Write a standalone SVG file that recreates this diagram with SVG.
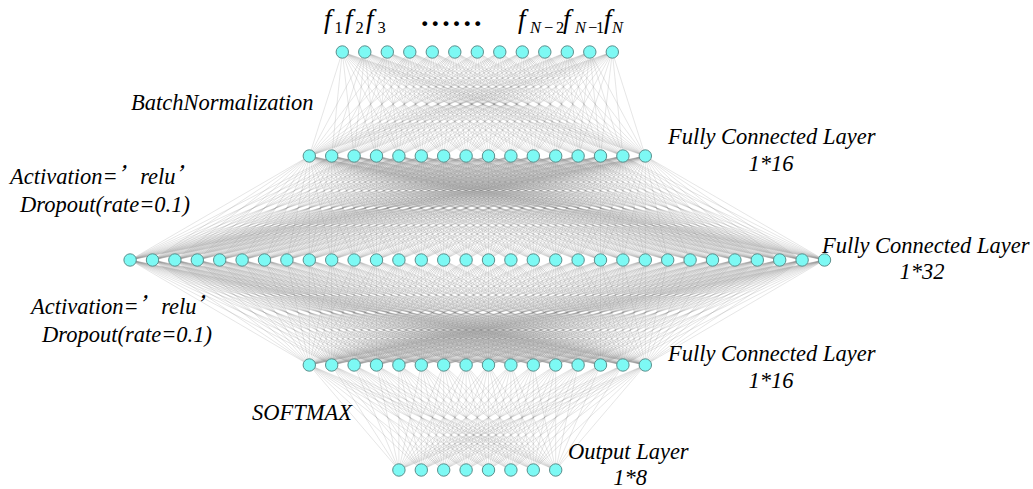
<svg xmlns="http://www.w3.org/2000/svg" width="1033" height="489" viewBox="0 0 1033 489">
<style>
.ln{fill:none;stroke:#858585;stroke-width:0.5;stroke-opacity:0.42;vector-effect:non-scaling-stroke}
.nd{fill:#7df9f4;stroke:#5c8f8c;stroke-width:1}
.lb{font-family:'Liberation Serif','Times New Roman',serif;font-style:italic;font-size:22.5px;fill:#000}
.fx{font-family:'Liberation Serif','Times New Roman',serif;font-style:italic;font-size:27px;fill:#000}
.q{font-family:'Noto Sans CJK SC',sans-serif}
.sub{font-family:'Liberation Serif','Times New Roman',serif;font-style:normal;font-size:16.5px;fill:#000}
.subi{font-family:'Liberation Serif','Times New Roman',serif;font-style:italic;font-size:16.5px;fill:#000}
</style>
<defs>
<path id="fA" class="ln" d="M0-104L-168 0M0-104L-145.6 0M0-104L-123.2 0M0-104L-100.8 0M0-104L-78.4 0M0-104L-56 0M0-104L-33.6 0M0-104L-11.2 0M0-104L11.2 0M0-104L33.6 0M0-104L56 0M0-104L78.4 0M0-104L100.8 0M0-104L123.2 0M0-104L145.6 0M0-104L168 0"/>
<path id="fB" class="ln" d="M0-104L-347.2 0M0-104L-324.8 0M0-104L-302.4 0M0-104L-280 0M0-104L-257.6 0M0-104L-235.2 0M0-104L-212.8 0M0-104L-190.4 0M0-104L-168 0M0-104L-145.6 0M0-104L-123.2 0M0-104L-100.8 0M0-104L-78.4 0M0-104L-56 0M0-104L-33.6 0M0-104L-11.2 0M0-104L11.2 0M0-104L33.6 0M0-104L56 0M0-104L78.4 0M0-104L100.8 0M0-104L123.2 0M0-104L145.6 0M0-104L168 0M0-104L190.4 0M0-104L212.8 0M0-104L235.2 0M0-104L257.6 0M0-104L280 0M0-104L302.4 0M0-104L324.8 0M0-104L347.2 0"/>
<path id="fC" class="ln" d="M0-105L-168 0M0-105L-145.6 0M0-105L-123.2 0M0-105L-100.8 0M0-105L-78.4 0M0-105L-56 0M0-105L-33.6 0M0-105L-11.2 0M0-105L11.2 0M0-105L33.6 0M0-105L56 0M0-105L78.4 0M0-105L100.8 0M0-105L123.2 0M0-105L145.6 0M0-105L168 0"/>
<path id="fD" class="ln" d="M0-105L-78.4 0M0-105L-56 0M0-105L-33.6 0M0-105L-11.2 0M0-105L11.2 0M0-105L33.6 0M0-105L56 0M0-105L78.4 0"/>
</defs>
<g id="connectors">
<g transform="translate(477.3 156)">
<use href="#fA" transform="matrix(1 0 1.29808 1 0 0)"/>
<use href="#fA" transform="matrix(1 0 1.08173 1 0 0)"/>
<use href="#fA" transform="matrix(1 0 0.86538 1 0 0)"/>
<use href="#fA" transform="matrix(1 0 0.64904 1 0 0)"/>
<use href="#fA" transform="matrix(1 0 0.43269 1 0 0)"/>
<use href="#fA" transform="matrix(1 0 0.21635 1 0 0)"/>
<use href="#fA"/>
<use href="#fA" transform="matrix(1 0 -0.21635 1 0 0)"/>
<use href="#fA" transform="matrix(1 0 -0.43269 1 0 0)"/>
<use href="#fA" transform="matrix(1 0 -0.64904 1 0 0)"/>
<use href="#fA" transform="matrix(1 0 -0.86538 1 0 0)"/>
<use href="#fA" transform="matrix(1 0 -1.08173 1 0 0)"/>
<use href="#fA" transform="matrix(1 0 -1.29808 1 0 0)"/>
</g>
<g transform="translate(477.3 260)">
<use href="#fB" transform="matrix(1 0 1.61538 1 0 0)"/>
<use href="#fB" transform="matrix(1 0 1.4 1 0 0)"/>
<use href="#fB" transform="matrix(1 0 1.18462 1 0 0)"/>
<use href="#fB" transform="matrix(1 0 0.96923 1 0 0)"/>
<use href="#fB" transform="matrix(1 0 0.75385 1 0 0)"/>
<use href="#fB" transform="matrix(1 0 0.53846 1 0 0)"/>
<use href="#fB" transform="matrix(1 0 0.32308 1 0 0)"/>
<use href="#fB" transform="matrix(1 0 0.10769 1 0 0)"/>
<use href="#fB" transform="matrix(1 0 -0.10769 1 0 0)"/>
<use href="#fB" transform="matrix(1 0 -0.32308 1 0 0)"/>
<use href="#fB" transform="matrix(1 0 -0.53846 1 0 0)"/>
<use href="#fB" transform="matrix(1 0 -0.75385 1 0 0)"/>
<use href="#fB" transform="matrix(1 0 -0.96923 1 0 0)"/>
<use href="#fB" transform="matrix(1 0 -1.18462 1 0 0)"/>
<use href="#fB" transform="matrix(1 0 -1.4 1 0 0)"/>
<use href="#fB" transform="matrix(1 0 -1.61538 1 0 0)"/>
</g>
<g transform="translate(477.3 365)">
<use href="#fC" transform="matrix(1 0 3.30667 1 0 0)"/>
<use href="#fC" transform="matrix(1 0 3.09333 1 0 0)"/>
<use href="#fC" transform="matrix(1 0 2.88 1 0 0)"/>
<use href="#fC" transform="matrix(1 0 2.66667 1 0 0)"/>
<use href="#fC" transform="matrix(1 0 2.45333 1 0 0)"/>
<use href="#fC" transform="matrix(1 0 2.24 1 0 0)"/>
<use href="#fC" transform="matrix(1 0 2.02667 1 0 0)"/>
<use href="#fC" transform="matrix(1 0 1.81333 1 0 0)"/>
<use href="#fC" transform="matrix(1 0 1.6 1 0 0)"/>
<use href="#fC" transform="matrix(1 0 1.38667 1 0 0)"/>
<use href="#fC" transform="matrix(1 0 1.17333 1 0 0)"/>
<use href="#fC" transform="matrix(1 0 0.96 1 0 0)"/>
<use href="#fC" transform="matrix(1 0 0.74667 1 0 0)"/>
<use href="#fC" transform="matrix(1 0 0.53333 1 0 0)"/>
<use href="#fC" transform="matrix(1 0 0.32 1 0 0)"/>
<use href="#fC" transform="matrix(1 0 0.10667 1 0 0)"/>
<use href="#fC" transform="matrix(1 0 -0.10667 1 0 0)"/>
<use href="#fC" transform="matrix(1 0 -0.32 1 0 0)"/>
<use href="#fC" transform="matrix(1 0 -0.53333 1 0 0)"/>
<use href="#fC" transform="matrix(1 0 -0.74667 1 0 0)"/>
<use href="#fC" transform="matrix(1 0 -0.96 1 0 0)"/>
<use href="#fC" transform="matrix(1 0 -1.17333 1 0 0)"/>
<use href="#fC" transform="matrix(1 0 -1.38667 1 0 0)"/>
<use href="#fC" transform="matrix(1 0 -1.6 1 0 0)"/>
<use href="#fC" transform="matrix(1 0 -1.81333 1 0 0)"/>
<use href="#fC" transform="matrix(1 0 -2.02667 1 0 0)"/>
<use href="#fC" transform="matrix(1 0 -2.24 1 0 0)"/>
<use href="#fC" transform="matrix(1 0 -2.45333 1 0 0)"/>
<use href="#fC" transform="matrix(1 0 -2.66667 1 0 0)"/>
<use href="#fC" transform="matrix(1 0 -2.88 1 0 0)"/>
<use href="#fC" transform="matrix(1 0 -3.09333 1 0 0)"/>
<use href="#fC" transform="matrix(1 0 -3.30667 1 0 0)"/>
</g>
<g transform="translate(477.3 470)">
<use href="#fD" transform="matrix(1 0 1.6 1 0 0)"/>
<use href="#fD" transform="matrix(1 0 1.38667 1 0 0)"/>
<use href="#fD" transform="matrix(1 0 1.17333 1 0 0)"/>
<use href="#fD" transform="matrix(1 0 0.96 1 0 0)"/>
<use href="#fD" transform="matrix(1 0 0.74667 1 0 0)"/>
<use href="#fD" transform="matrix(1 0 0.53333 1 0 0)"/>
<use href="#fD" transform="matrix(1 0 0.32 1 0 0)"/>
<use href="#fD" transform="matrix(1 0 0.10667 1 0 0)"/>
<use href="#fD" transform="matrix(1 0 -0.10667 1 0 0)"/>
<use href="#fD" transform="matrix(1 0 -0.32 1 0 0)"/>
<use href="#fD" transform="matrix(1 0 -0.53333 1 0 0)"/>
<use href="#fD" transform="matrix(1 0 -0.74667 1 0 0)"/>
<use href="#fD" transform="matrix(1 0 -0.96 1 0 0)"/>
<use href="#fD" transform="matrix(1 0 -1.17333 1 0 0)"/>
<use href="#fD" transform="matrix(1 0 -1.38667 1 0 0)"/>
<use href="#fD" transform="matrix(1 0 -1.6 1 0 0)"/>
</g>
</g>
<g id="layer-input">
<g id="in1"><circle class="nd" cx="342.3" cy="52" r="6.2"/></g>
<g id="in2"><circle class="nd" cx="364.8" cy="52" r="6.2"/></g>
<g id="in3"><circle class="nd" cx="387.3" cy="52" r="6.2"/></g>
<g id="in4"><circle class="nd" cx="409.8" cy="52" r="6.2"/></g>
<g id="in5"><circle class="nd" cx="432.3" cy="52" r="6.2"/></g>
<g id="in6"><circle class="nd" cx="454.8" cy="52" r="6.2"/></g>
<g id="in7"><circle class="nd" cx="477.3" cy="52" r="6.2"/></g>
<g id="in8"><circle class="nd" cx="499.8" cy="52" r="6.2"/></g>
<g id="in9"><circle class="nd" cx="522.3" cy="52" r="6.2"/></g>
<g id="in10"><circle class="nd" cx="544.8" cy="52" r="6.2"/></g>
<g id="in11"><circle class="nd" cx="567.3" cy="52" r="6.2"/></g>
<g id="in12"><circle class="nd" cx="589.8" cy="52" r="6.2"/></g>
<g id="in13"><circle class="nd" cx="612.3" cy="52" r="6.2"/></g>
</g>
<g id="layer-fc1">
<g id="h1_1"><circle class="nd" cx="309.3" cy="156" r="6.2"/></g>
<g id="h1_2"><circle class="nd" cx="331.7" cy="156" r="6.2"/></g>
<g id="h1_3"><circle class="nd" cx="354.1" cy="156" r="6.2"/></g>
<g id="h1_4"><circle class="nd" cx="376.5" cy="156" r="6.2"/></g>
<g id="h1_5"><circle class="nd" cx="398.9" cy="156" r="6.2"/></g>
<g id="h1_6"><circle class="nd" cx="421.3" cy="156" r="6.2"/></g>
<g id="h1_7"><circle class="nd" cx="443.7" cy="156" r="6.2"/></g>
<g id="h1_8"><circle class="nd" cx="466.1" cy="156" r="6.2"/></g>
<g id="h1_9"><circle class="nd" cx="488.5" cy="156" r="6.2"/></g>
<g id="h1_10"><circle class="nd" cx="510.9" cy="156" r="6.2"/></g>
<g id="h1_11"><circle class="nd" cx="533.3" cy="156" r="6.2"/></g>
<g id="h1_12"><circle class="nd" cx="555.7" cy="156" r="6.2"/></g>
<g id="h1_13"><circle class="nd" cx="578.1" cy="156" r="6.2"/></g>
<g id="h1_14"><circle class="nd" cx="600.5" cy="156" r="6.2"/></g>
<g id="h1_15"><circle class="nd" cx="622.9" cy="156" r="6.2"/></g>
<g id="h1_16"><circle class="nd" cx="645.3" cy="156" r="6.2"/></g>
</g>
<g id="layer-fc2">
<g id="h2_1"><circle class="nd" cx="130.1" cy="260" r="6.2"/></g>
<g id="h2_2"><circle class="nd" cx="152.5" cy="260" r="6.2"/></g>
<g id="h2_3"><circle class="nd" cx="174.9" cy="260" r="6.2"/></g>
<g id="h2_4"><circle class="nd" cx="197.3" cy="260" r="6.2"/></g>
<g id="h2_5"><circle class="nd" cx="219.7" cy="260" r="6.2"/></g>
<g id="h2_6"><circle class="nd" cx="242.1" cy="260" r="6.2"/></g>
<g id="h2_7"><circle class="nd" cx="264.5" cy="260" r="6.2"/></g>
<g id="h2_8"><circle class="nd" cx="286.9" cy="260" r="6.2"/></g>
<g id="h2_9"><circle class="nd" cx="309.3" cy="260" r="6.2"/></g>
<g id="h2_10"><circle class="nd" cx="331.7" cy="260" r="6.2"/></g>
<g id="h2_11"><circle class="nd" cx="354.1" cy="260" r="6.2"/></g>
<g id="h2_12"><circle class="nd" cx="376.5" cy="260" r="6.2"/></g>
<g id="h2_13"><circle class="nd" cx="398.9" cy="260" r="6.2"/></g>
<g id="h2_14"><circle class="nd" cx="421.3" cy="260" r="6.2"/></g>
<g id="h2_15"><circle class="nd" cx="443.7" cy="260" r="6.2"/></g>
<g id="h2_16"><circle class="nd" cx="466.1" cy="260" r="6.2"/></g>
<g id="h2_17"><circle class="nd" cx="488.5" cy="260" r="6.2"/></g>
<g id="h2_18"><circle class="nd" cx="510.9" cy="260" r="6.2"/></g>
<g id="h2_19"><circle class="nd" cx="533.3" cy="260" r="6.2"/></g>
<g id="h2_20"><circle class="nd" cx="555.7" cy="260" r="6.2"/></g>
<g id="h2_21"><circle class="nd" cx="578.1" cy="260" r="6.2"/></g>
<g id="h2_22"><circle class="nd" cx="600.5" cy="260" r="6.2"/></g>
<g id="h2_23"><circle class="nd" cx="622.9" cy="260" r="6.2"/></g>
<g id="h2_24"><circle class="nd" cx="645.3" cy="260" r="6.2"/></g>
<g id="h2_25"><circle class="nd" cx="667.7" cy="260" r="6.2"/></g>
<g id="h2_26"><circle class="nd" cx="690.1" cy="260" r="6.2"/></g>
<g id="h2_27"><circle class="nd" cx="712.5" cy="260" r="6.2"/></g>
<g id="h2_28"><circle class="nd" cx="734.9" cy="260" r="6.2"/></g>
<g id="h2_29"><circle class="nd" cx="757.3" cy="260" r="6.2"/></g>
<g id="h2_30"><circle class="nd" cx="779.7" cy="260" r="6.2"/></g>
<g id="h2_31"><circle class="nd" cx="802.1" cy="260" r="6.2"/></g>
<g id="h2_32"><circle class="nd" cx="824.5" cy="260" r="6.2"/></g>
</g>
<g id="layer-fc3">
<g id="h3_1"><circle class="nd" cx="309.3" cy="365" r="6.2"/></g>
<g id="h3_2"><circle class="nd" cx="331.7" cy="365" r="6.2"/></g>
<g id="h3_3"><circle class="nd" cx="354.1" cy="365" r="6.2"/></g>
<g id="h3_4"><circle class="nd" cx="376.5" cy="365" r="6.2"/></g>
<g id="h3_5"><circle class="nd" cx="398.9" cy="365" r="6.2"/></g>
<g id="h3_6"><circle class="nd" cx="421.3" cy="365" r="6.2"/></g>
<g id="h3_7"><circle class="nd" cx="443.7" cy="365" r="6.2"/></g>
<g id="h3_8"><circle class="nd" cx="466.1" cy="365" r="6.2"/></g>
<g id="h3_9"><circle class="nd" cx="488.5" cy="365" r="6.2"/></g>
<g id="h3_10"><circle class="nd" cx="510.9" cy="365" r="6.2"/></g>
<g id="h3_11"><circle class="nd" cx="533.3" cy="365" r="6.2"/></g>
<g id="h3_12"><circle class="nd" cx="555.7" cy="365" r="6.2"/></g>
<g id="h3_13"><circle class="nd" cx="578.1" cy="365" r="6.2"/></g>
<g id="h3_14"><circle class="nd" cx="600.5" cy="365" r="6.2"/></g>
<g id="h3_15"><circle class="nd" cx="622.9" cy="365" r="6.2"/></g>
<g id="h3_16"><circle class="nd" cx="645.3" cy="365" r="6.2"/></g>
</g>
<g id="layer-output">
<g id="out1"><circle class="nd" cx="398.9" cy="470" r="6.2"/></g>
<g id="out2"><circle class="nd" cx="421.3" cy="470" r="6.2"/></g>
<g id="out3"><circle class="nd" cx="443.7" cy="470" r="6.2"/></g>
<g id="out4"><circle class="nd" cx="466.1" cy="470" r="6.2"/></g>
<g id="out5"><circle class="nd" cx="488.5" cy="470" r="6.2"/></g>
<g id="out6"><circle class="nd" cx="510.9" cy="470" r="6.2"/></g>
<g id="out7"><circle class="nd" cx="533.3" cy="470" r="6.2"/></g>
<g id="out8"><circle class="nd" cx="555.7" cy="470" r="6.2"/></g>
</g>
<g id="labels" font-family="Liberation Serif, Times New Roman, serif" font-style="italic">
<text class="fx" x="324" y="28">f</text><text class="sub" x="334.5" y="33">1</text>
<text class="fx" x="345" y="28">f</text><text class="sub" x="355.5" y="33">2</text>
<text class="fx" x="366" y="28">f</text><text class="sub" x="377.5" y="33">3</text>
<text x="421" y="26" font-family="Liberation Serif, serif" font-style="normal" font-weight="bold" font-size="30" letter-spacing="3.1">......</text>
<text class="fx" x="518" y="28">f</text><text class="subi" x="530" y="33">N<tspan class="sub" x="544">−</tspan><tspan class="sub" x="556">2</tspan></text>
<text class="fx" x="563" y="28">f</text><text class="subi" x="575" y="33">N<tspan class="sub" x="588">−</tspan><tspan class="sub" x="596">1</tspan></text>
<text class="fx" x="604" y="28">f</text><text class="subi" x="612" y="33">N</text>
<text class="lb" x="131" y="110">BatchNormalization</text>
<text class="lb" x="668" y="144">Fully Connected Layer</text>
<text class="lb" x="771" y="171" text-anchor="middle">1*16</text>
<text class="lb" x="10" y="184">Activation=<tspan class="q">’</tspan>relu<tspan class="q">’</tspan></text>
<text class="lb" x="20" y="212">Dropout(rate=0.1)</text>
<text class="lb" x="822" y="253">Fully Connected Layer</text>
<text class="lb" x="922" y="279" text-anchor="middle">1*32</text>
<text class="lb" x="31" y="314">Activation=<tspan class="q">’</tspan>relu<tspan class="q">’</tspan></text>
<text class="lb" x="42" y="342">Dropout(rate=0.1)</text>
<text class="lb" x="668" y="361">Fully Connected Layer</text>
<text class="lb" x="771" y="388" text-anchor="middle">1*16</text>
<text class="lb" x="252" y="420">SOFTMAX</text>
<text class="lb" x="568" y="459">Output Layer</text>
<text class="lb" x="630" y="485" text-anchor="middle">1*8</text>
</g>
</svg>
